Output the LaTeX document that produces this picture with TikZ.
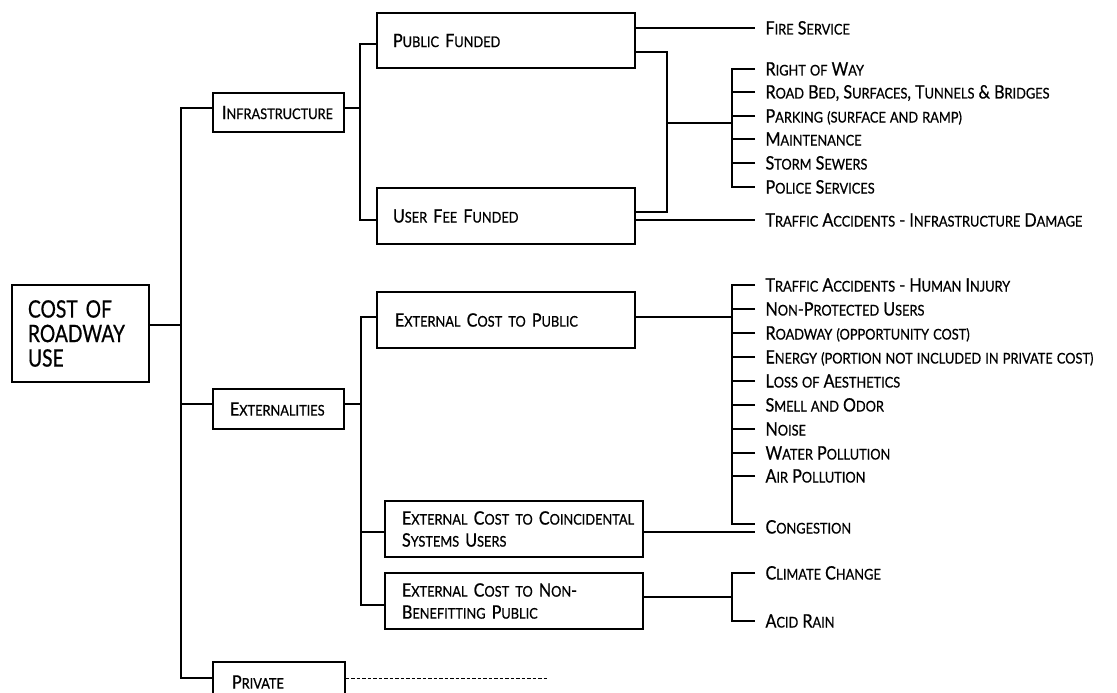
\documentclass[tikz,border=0pt]{standalone}
\usepackage{fontspec}
\setmainfont{Lato}[FakeStretch=0.87,FakeBold=0.7]
\newfontfamily\rootfont{Lato}[FakeStretch=0.8,FakeBold=0.7]
\newcommand\sm[1]{{\fontsize{14.7}{16}\selectfont\MakeUppercase{#1}}}
\begin{document}
\begin{tikzpicture}[x=1pt,y=-1pt,line width=1.1pt,
  box/.style={draw,line width=1.1pt,inner ysep=0pt,align=left,font=\fontsize{18.5}{22}\selectfont},
  leaf/.style={anchor=west,inner xsep=10pt,inner ysep=0pt,text height=13pt,text depth=0pt,font=\fontsize{18.5}{20}\selectfont},
  dashline/.style={line width=0.9pt,dash pattern=on 3.5pt off 2pt}]
\useasboundingbox (0,0) rectangle (1117,693);
\clip (0,0) rectangle (1117,693);
% boxes
\node[box,minimum width=137pt,minimum height=97pt,inner xsep=16pt,text width=105pt,font=\rootfont\fontsize{24}{24.5}\selectfont] (root) at (80.5,333.5) {COST OF\\ROADWAY\\USE};
\node[box,minimum width=131pt,minimum height=39pt,inner xsep=9pt,text width=113pt] (infra) at (278.5,112.5) {\mbox{I\sm{nfrastructure}}};
\node[box,minimum width=131pt,minimum height=40pt,inner xsep=17pt,text width=97pt] (ext) at (278.5,409) {E\sm{xternalities}};
\node[box,minimum width=132pt,minimum height=40pt,inner xsep=19pt,text width=94pt] (priv) at (279,682) {P\sm{rivate}};
\node[box,minimum width=258pt,minimum height=55pt,inner xsep=16pt,text width=226pt] (pub) at (506,40.5) {P\sm{ublic} F\sm{unded}};
\node[box,minimum width=258pt,minimum height=56pt,inner xsep=16pt,text width=226pt] (user) at (506,216) {U\sm{ser} F\sm{ee} F\sm{unded}};
\node[box,minimum width=258pt,minimum height=56pt,inner xsep=18pt,text width=222pt] (ecp) at (506,320) {E\sm{xternal} C\sm{ost} \sm{to} P\sm{ublic}};
\node[box,minimum width=258pt,minimum height=56pt,inner xsep=17pt,text width=224pt] (coin) at (514,529) {\mbox{E\sm{xternal} C\sm{ost} \sm{to} C\sm{oincidental}}\\S\sm{ystems} U\sm{sers}};
\node[box,minimum width=258pt,minimum height=56pt,inner xsep=17pt,text width=224pt] (nonb) at (514,601) {E\sm{xternal} C\sm{ost} \sm{to} N\sm{on}-\\B\sm{enefitting} P\sm{ublic}};
% leaves
\node[leaf] (l1) at (755,28) {F\sm{ire} S\sm{ervice}};
\node[leaf] (l2) at (755,69) {R\sm{ight} \sm{of} W\sm{ay}};
\node[leaf] (l3) at (755,92) {R\sm{oad} B\sm{ed}, S\sm{urfaces}, T\sm{unnels} \& B\sm{ridges}};
\node[leaf] (l4) at (755,116) {P\sm{arking} \sm{(surface} \sm{and} \sm{ramp)}};
\node[leaf] (l5) at (755,139) {M\sm{aintenance}};
\node[leaf] (l6) at (755,163) {S\sm{torm} S\sm{ewers}};
\node[leaf] (l7) at (755,187) {P\sm{olice} S\sm{ervices}};
\node[leaf] (l8) at (755,220) {T\sm{raffic} A\sm{ccidents} - I\sm{nfrastructure} D\sm{amage}};
\node[leaf] (e1) at (755,285) {T\sm{raffic} A\sm{ccidents} - H\sm{uman} I\sm{njury}};
\node[leaf] (e2) at (755,309) {N\sm{on}-P\sm{rotected} U\sm{sers}};
\node[leaf] (e3) at (755,333) {R\sm{oadway} \sm{(opportunity} \sm{cost)}};
\node[leaf] (e4) at (755,357) {E\sm{nergy} \sm{(portion} \sm{not} \sm{included} \sm{in} \sm{private} \sm{cost)}};
\node[leaf] (e5) at (755,381) {L\sm{oss} \sm{of} A\sm{esthetics}};
\node[leaf] (e6) at (755,405) {S\sm{mell} \sm{and} O\sm{dor}};
\node[leaf] (e7) at (755,429) {N\sm{oise}};
\node[leaf] (e8) at (755,453) {W\sm{ater} P\sm{ollution}};
\node[leaf] (e9) at (755,476) {A\sm{ir} P\sm{ollution}};
\node[leaf] (cong) at (755,527) {C\sm{ongestion}};
\node[leaf] (cc) at (755,573) {C\sm{limate} C\sm{hange}};
\node[leaf] (ar) at (755,621) {A\sm{cid} R\sm{ain}};
% trunk
\draw (root.east |- 0,325) -- (181,325);
\draw (infra.west |- 0,108) -- (181,108) -- (181,678) -- (priv.west |- 0,678);
\draw (181,404) -- (ext.west |- 0,404);
\draw[dashline] (priv.east |- 0,678) -- (547,678);
% infrastructure
\draw (infra.east |- 0,108) -- (360,108);
\draw (pub.west |- 0,44) -- (360,44) -- (360,220) -- (user.west |- 0,220);
\draw (pub.east |- 0,28) -- (l1.west);
\draw (pub.east |- 0,52) -- (667,52) -- (667,212) -- (user.east |- 0,212);
\draw (667,123) -- (732,123);
\draw (l2.west) -- ++(-23,0) |- (l7.west);
\foreach \n in {l3,l4,l5,l6} \draw (\n.west) -- ++(-23,0);
\draw (user.east |- 0,220) -- (l8.west);
% externalities
\draw (ext.east |- 0,404) -- (361,404);
\draw (ecp.west |- 0,317) -- (361,317) -- (361,605) -- (nonb.west |- 0,605);
\draw (361,532) -- (coin.west |- 0,532);
\draw (ecp.east |- 0,317) -- (732,317);
\draw (e1.west) -- ++(-23,0) |- ([yshift=3pt]cong.west);
\foreach \n in {e2,e3,e4,e5,e6,e7,e8,e9} \draw (\n.west) -- ++(-23,0);
\draw (coin.east |- 0,532) -- (cong.west |- 0,532);
\draw (nonb.east |- 0,597) -- (732,597);
\draw (cc.west) -- ++(-23,0) |- (ar.west);
\end{tikzpicture}
\end{document}
